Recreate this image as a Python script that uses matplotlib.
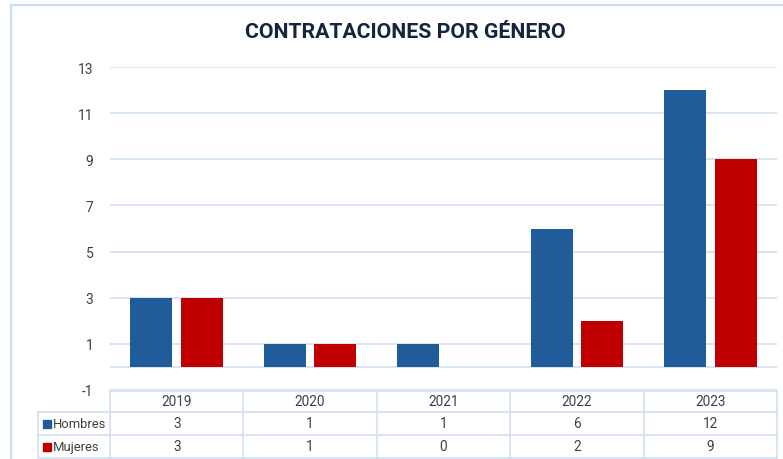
import matplotlib
matplotlib.use("Agg")
import matplotlib.pyplot as plt
import numpy as np
from matplotlib.lines import Line2D
from matplotlib.patches import Rectangle

# datos
years = ["2019", "2020", "2021", "2022", "2023"]
hombres = [3, 1, 1, 6, 12]
mujeres = [3, 1, 0, 2, 9]
series_names = ["Hombres", "Mujeres"]
yticks = [-1, 1, 3, 5, 7, 9, 11, 13]

BLUE = "#1F5C99"
RED = "#C00000"
GRID = "#D3E2F3"
TXT = "#404040"
W, H = 783, 460

plt.rcParams['font.family'] = ['Roboto', 'DejaVu Sans']
plt.rcParams['axes.unicode_minus'] = False

fig = plt.figure(figsize=(W / 100, H / 100), dpi=100)

def fx(px):
    return px / W

def fy(py):
    return 1 - py / H

# main plot area
ax = fig.add_axes([fx(110), fy(391), fx(777) - fx(110), fy(68) - fy(391)])
x = np.arange(len(years))
bw = 0.315
off = 0.19
ax.bar(x - off, hombres, bw, color=BLUE, zorder=3)
ax.bar(x + off, mujeres, bw, color=RED, zorder=3)
ax.set_xlim(-0.5, len(years) - 0.5)
ax.set_ylim(-1, 13)
ax.set_yticks(yticks)
ax.set_xticks([])
ax.tick_params(axis='y', length=0, pad=12, labelsize=10, labelcolor=TXT)
for t in yticks:
    ax.axhline(t, color=GRID, lw=1.3, zorder=1)
ax.axhline(0, color=GRID, lw=1.3, zorder=1)
for s in ax.spines.values():
    s.set_visible(False)

# title
fig.text(fx(405), fy(33), "CONTRATACIONES POR GÉNERO", ha='center', va='center',
         fontsize=15.3, fontweight='bold', color="#14253D")

# data table
tab = fig.add_axes([fx(38), fy(459), fx(777) - fx(38), fy(392) - fy(459)])
px_unit = 133.4  # pixels per category
left_col = -0.5 - 72 / px_unit
tab.set_xlim(left_col, len(years) - 0.5)
tab.set_ylim(0, 67)
tab.axis('off')
row_y = [0, 23, 46, 67]  # mujeres, hombres, header
lc = GRID
lw = 1.3
# horizontal lines
tab.plot([-0.5, len(years) - 0.5], [row_y[3], row_y[3]], color=lc, lw=lw, clip_on=False)
for yy in row_y[:3]:
    tab.plot([left_col, len(years) - 0.5], [yy, yy], color=lc, lw=lw, clip_on=False)
# vertical lines
for i in range(len(years) + 1):
    tab.plot([i - 0.5, i - 0.5], [0, 67], color=lc, lw=lw, clip_on=False)
tab.plot([left_col, left_col], [0, 46], color=lc, lw=lw, clip_on=False)

fs = 9.8
for i, yr in enumerate(years):
    tab.text(i, (row_y[2] + row_y[3]) / 2, yr, ha='center', va='center', fontsize=fs, color=TXT)
    tab.text(i, (row_y[1] + row_y[2]) / 2, str(hombres[i]), ha='center', va='center', fontsize=fs, color=TXT)
    tab.text(i, (row_y[0] + row_y[1]) / 2, str(mujeres[i]), ha='center', va='center', fontsize=fs, color=TXT)

for name, col, (y0, y1) in [(series_names[0], BLUE, (row_y[1], row_y[2])),
                            (series_names[1], RED, (row_y[0], row_y[1]))]:
    yc = (y0 + y1) / 2
    tab.add_patch(Rectangle((left_col + 5 / px_unit, yc - 4), 8 / px_unit, 8, color=col, clip_on=False))
    tab.text(left_col + 15 / px_unit, yc, name, ha='left', va='center', fontsize=9.4, color=TXT)

# chart border (left and top)
fig.add_artist(Line2D([fx(11), fx(11)], [fy(6), 0], color="#C9DCF0", lw=1.5))
fig.add_artist(Line2D([fx(11), 1], [fy(6), fy(6)], color="#C9DCF0", lw=1.5))

fig.savefig("out.png", dpi=100)
